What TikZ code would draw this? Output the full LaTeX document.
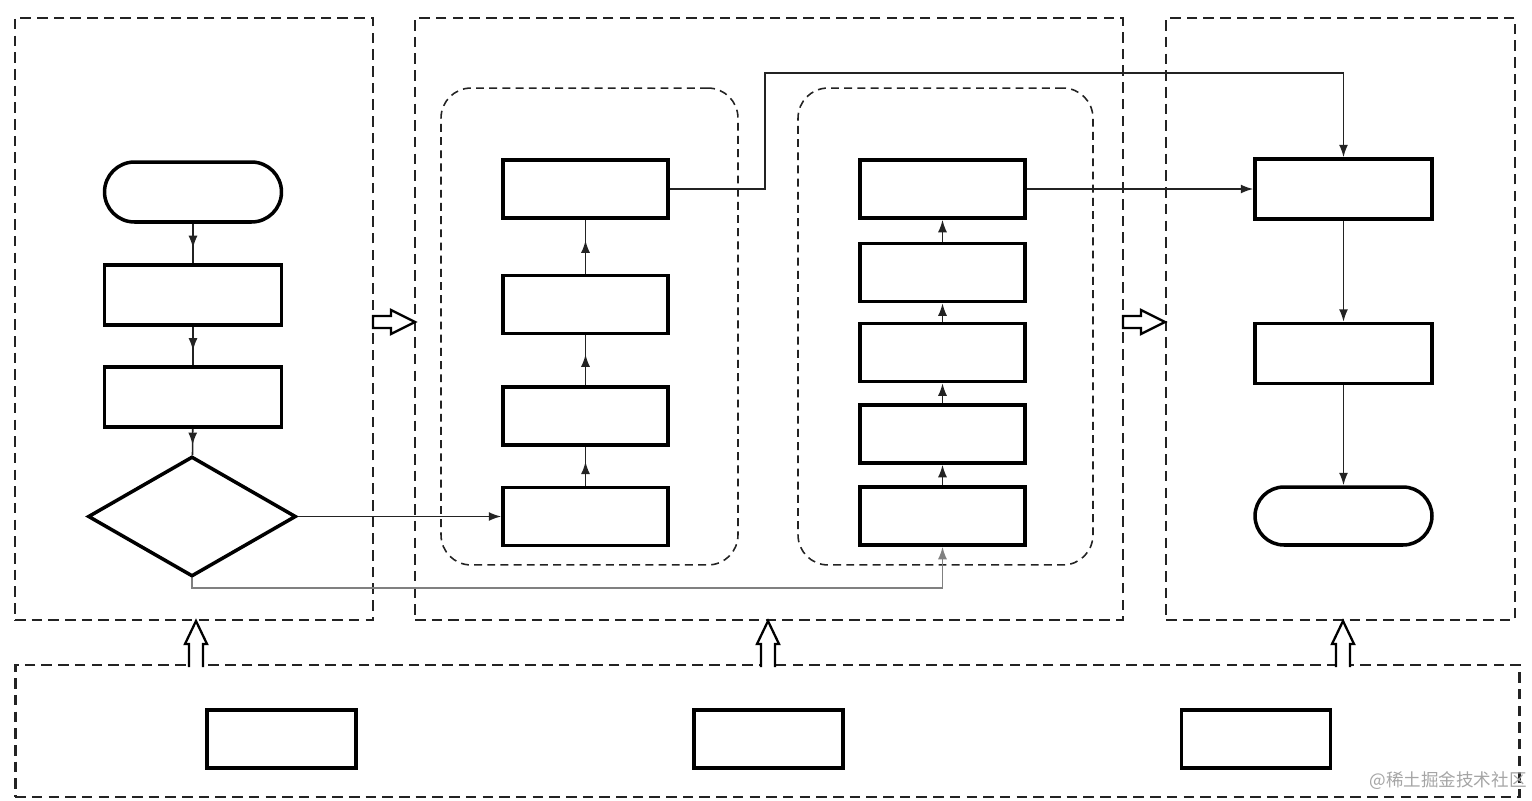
\documentclass[tikz,border=0pt]{standalone}
\usepackage{fontspec}
\usepackage{tikz}
\usetikzlibrary{shapes.geometric, arrows.meta, decorations.markings}
\newfontfamily\cjk{Noto Sans CJK SC}
\definecolor{inkgray}{RGB}{35,35,35}
\definecolor{markgray}{RGB}{165,165,165}

\begin{document}
\begin{tikzpicture}[x=0.02cm, y=-0.02cm,
  panel/.style={rectangle, draw=inkgray, line width=1.6pt, dash pattern=on 6pt off 3.5pt,
              minimum height=12.04cm, inner sep=0},
  group/.style={rectangle, draw=inkgray, line width=0.9pt, dash pattern=on 4.5pt off 3pt,
              rounded corners=0.6cm, minimum width=5.94cm, minimum height=9.54cm, inner sep=0},
  proc/.style={rectangle, draw, line width=2pt, minimum width=3.3cm, minimum height=1.16cm, inner sep=0},
  wideproc/.style={proc, minimum width=3.54cm, minimum height=1.2cm},
  term/.style={wideproc, rounded corners=0.6cm},
  decide/.style={diamond, draw, line width=2pt, minimum width=4.16cm, minimum height=2.4cm, inner sep=0},
  link/.style={draw=inkgray, line width=0.9pt},
  arrow/.style={link, -{Latex[length=2.5mm, width=1.8mm]}},
  midarrow/.style={link, postaction={decorate}, decoration={markings,
              mark=at position 0.62 with {\arrow{Latex[length=2.5mm, width=1.8mm]}}}},
  bigup/.pic={\draw[line width=1.3pt, fill=white] (-7,0) -- (-7,-23) -- (-11,-23) -- (0,-46)
              -- (11,-23) -- (7,-23) -- (7,0);},
  bigright/.pic={\draw[line width=1.3pt, fill=white] (0,-6) -- (18,-6) -- (18,-12) -- (42,0)
              -- (18,12) -- (18,6) -- (0,6) -- cycle;}
]
\useasboundingbox (0,0) rectangle (1532,801);

% panels
\node[panel, minimum width=7.16cm] (pin) at (194,319) {};
\node[panel, minimum width=14.16cm] (pmid) at (769,319) {};
\node[panel, minimum width=6.98cm] (pout) at (1340.5,319) {};
\node[panel, minimum width=30.1cm, minimum height=2.64cm] (pbase) at (767.5,731) {};
\node[group] (grpa) at (589.5,326.5) {};
\node[group, minimum width=5.9cm] (grpb) at (945.5,326.5) {};

% left column
\node[term] (start) at (193,192) {};
\node[wideproc] (lfirst) at (193,295) {};
\node[wideproc] (lsecond) at (193,397) {};
\node[decide] (check) at (192,516.5) {};

% middle, first group
\node[proc] (aone) at (585.5,189) {};
\node[proc] (atwo) at (585.5,304.5) {};
\node[proc] (athree) at (585.5,416) {};
\node[proc] (afour) at (585.5,516.5) {};

% middle, second group
\node[proc] (bone) at (942.5,189) {};
\node[proc] (btwo) at (942.5,272.5) {};
\node[proc] (bthree) at (942.5,352.5) {};
\node[proc] (bfour) at (942.5,434) {};
\node[proc] (bfive) at (942.5,516) {};

% right column
\node[wideproc] (rone) at (1343.5,189) {};
\node[wideproc] (rtwo) at (1343.5,353.5) {};
\node[term, minimum height=1.16cm, rounded corners=0.58cm] (stop) at (1343.5,516) {};

% base boxes
\node[proc, minimum width=2.98cm] (baseone) at (281.5,739) {};
\node[proc, minimum width=2.98cm] (basetwo) at (768.5,739) {};
\node[proc, minimum width=2.98cm] (basethree) at (1256,739) {};

% hollow arrows
\pic at (373,322) {bigright};
\pic at (1123,322) {bigright};
\pic at (196,667) {bigup};
\pic at (768,667) {bigup};
\pic at (1343,667) {bigup};

% arrows
\draw[midarrow] (start) -- (lfirst);
\draw[midarrow] (lfirst) -- (lsecond);
\draw[midarrow] (lsecond) -- (check);
\draw[arrow] (check.east) -- (afour.west);
\draw[arrow, draw=gray] (check.south) -- ++(0,10) -| (bfive.south);
\draw[midarrow] (afour) -- (athree);
\draw[midarrow] (athree) -- (atwo);
\draw[midarrow] (atwo) -- (aone);
\draw[arrow] (bfive) -- (bfour);
\draw[arrow] (bfour) -- (bthree);
\draw[arrow] (bthree) -- (btwo);
\draw[arrow] (btwo) -- (bone);
\coordinate (bend) at (765,73);
\draw[arrow] (aone.east) -| (bend) -| (rone.north);
\draw[arrow] (bone.east) -- (rone.west);
\draw[arrow] (rone) -- (rtwo);
\draw[arrow] (rtwo) -- (stop);

\node[anchor=east, text=markgray, font=\cjk\fontsize{10}{12}\selectfont, inner sep=0] (mark) at (1527,781) {@稀土掘金技术社区};
\end{tikzpicture}
\end{document}
